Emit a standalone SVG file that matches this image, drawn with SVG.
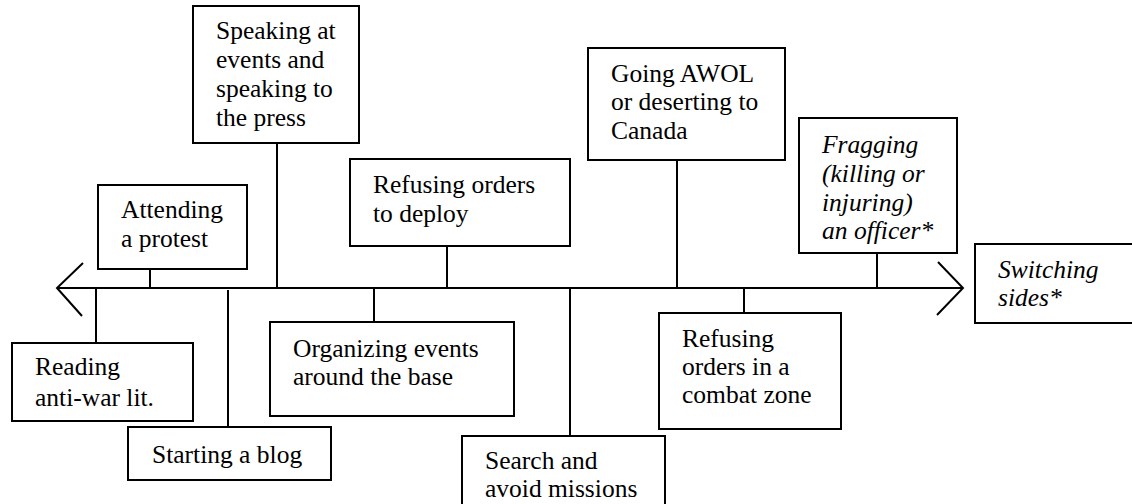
<svg xmlns="http://www.w3.org/2000/svg" width="1132" height="504" viewBox="0 0 1132 504">
<style>
.box{fill:#fff;stroke:#000;stroke-width:2}
.ln{stroke:#000;stroke-width:2;fill:none}
.it{font-style:italic}
</style>
<rect width="1132" height="504" fill="#fff"/>
<g id="connectors">
<line class="ln" x1="57" y1="288" x2="963" y2="288"/>
<polyline class="ln" points="83,263 57,288 82,316"/>
<polyline class="ln" points="938,262 963,288 937,315"/>
<line class="ln" x1="150" y1="269" x2="150" y2="288"/>
<line class="ln" x1="96" y1="288" x2="96" y2="343"/>
<line class="ln" x1="228" y1="290" x2="228" y2="427"/>
<line class="ln" x1="277" y1="143" x2="277" y2="288"/>
<line class="ln" x1="374" y1="288" x2="374" y2="322"/>
<line class="ln" x1="447" y1="246" x2="447" y2="288"/>
<line class="ln" x1="570" y1="288" x2="570" y2="436"/>
<line class="ln" x1="677" y1="160" x2="677" y2="288"/>
<line class="ln" x1="744" y1="288" x2="744" y2="313"/>
<line class="ln" x1="877" y1="253" x2="877" y2="288"/>
</g>
<g font-family="Liberation Serif, Tinos, Times New Roman, DejaVu Serif, serif" font-size="25.5" fill="#000">
<g id="attending">
<rect class="box" x="98" y="185" width="149" height="84"/>
<text x="121" y="218">Attending</text>
<text x="121" y="247">a protest</text>
</g>
<g id="reading">
<rect class="box" x="12" y="343" width="181" height="78"/>
<text x="35" y="375">Reading</text>
<text x="35" y="406">anti-war lit.</text>
</g>
<g id="blog">
<rect class="box" x="128" y="427" width="203" height="53"/>
<text x="152" y="463">Starting a blog</text>
</g>
<g id="speaking">
<rect class="box" x="193" y="6" width="166" height="137"/>
<text x="216" y="39">Speaking at</text>
<text x="216" y="68">events and</text>
<text x="216" y="97">speaking to</text>
<text x="216" y="126">the press</text>
</g>
<g id="organizing">
<rect class="box" x="270" y="322" width="244" height="94"/>
<text x="293" y="357">Organizing events</text>
<text x="293" y="385">around the base</text>
</g>
<g id="deploy">
<rect class="box" x="350" y="159" width="220" height="87"/>
<text x="373" y="193">Refusing orders</text>
<text x="373" y="222">to deploy</text>
</g>
<g id="search">
<rect class="box" x="462" y="436" width="203" height="80"/>
<text x="485" y="469">Search and</text>
<text x="485" y="497">avoid missions</text>
</g>
<g id="awol">
<rect class="box" x="588" y="48" width="197" height="112"/>
<text x="611" y="82">Going AWOL</text>
<text x="611" y="110">or deserting to</text>
<text x="611" y="139">Canada</text>
</g>
<g id="combat">
<rect class="box" x="659" y="313" width="182" height="116"/>
<text x="682" y="347">Refusing</text>
<text x="682" y="375">orders in a</text>
<text x="682" y="403">combat zone</text>
</g>
<g id="fragging">
<rect class="box" x="799" y="118" width="158" height="135"/>
<text class="it" x="822" y="153">Fragging</text>
<text class="it" x="822" y="182">(killing or</text>
<text class="it" x="822" y="211">injuring)</text>
<text class="it" x="822" y="239">an officer*</text>
</g>
<g id="switching">
<rect class="box" x="975" y="244" width="170" height="79"/>
<text class="it" x="998" y="278">Switching</text>
<text class="it" x="998" y="306">sides*</text>
</g>
</g>
</svg>
